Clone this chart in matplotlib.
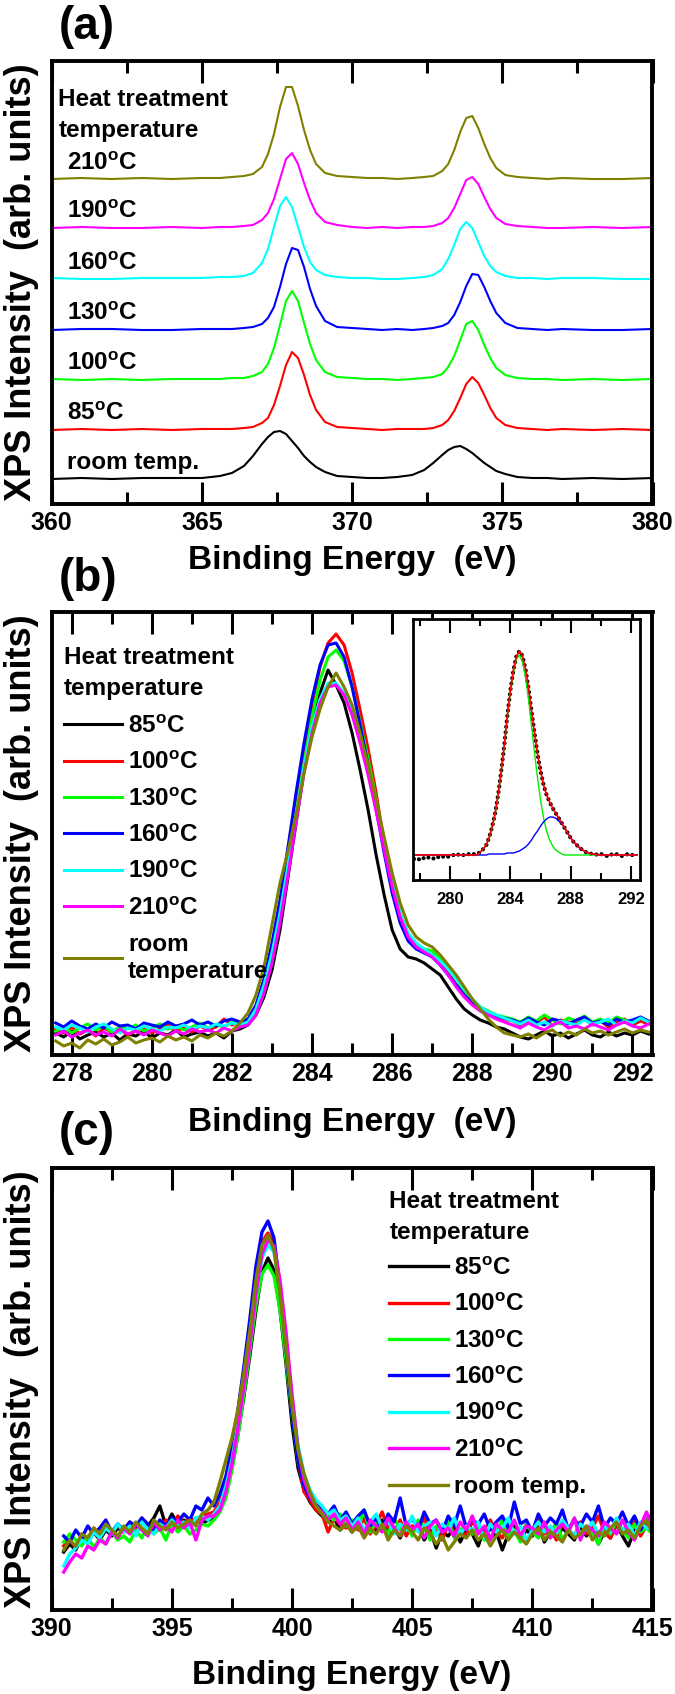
import numpy as np
import matplotlib
matplotlib.use("Agg")
import matplotlib.pyplot as plt
from matplotlib.ticker import MultipleLocator

plt.rcParams['font.family'] = ['Liberation Sans', 'DejaVu Sans']
plt.rcParams['font.weight'] = 'bold'
plt.rcParams['axes.labelweight'] = 'bold'
plt.rcParams['mathtext.fontset'] = 'custom'
plt.rcParams['mathtext.rm'] = 'Liberation Sans:bold'
plt.rcParams['mathtext.it'] = 'Liberation Sans:bold'
plt.rcParams['mathtext.bf'] = 'Liberation Sans:bold'

W, H = 675, 1694
deg = r'$^{\rm o}$C'

# ---------------- (a) Sn 3d, stacked ----------------
be_a = [360.0, 361.0, 362.0, 363.0, 364.0, 365.0, 365.6,
        366.0, 366.4, 366.7, 367.0, 367.2, 367.4, 367.6, 367.8, 368.0, 368.2,
        368.4, 368.6, 368.8, 369.1, 369.5, 370.0,
        370.5, 371.0, 371.5, 372.0,
        372.4, 372.7, 373.0, 373.2, 373.4, 373.6, 373.8, 374.0, 374.2, 374.4,
        374.6, 374.8, 375.1, 375.5, 376.0,
        376.5, 377.0, 378.0, 379.0, 380.0]

a_rt = [0, 1, 0, 1, 1, 1, 3,
        6, 13, 23, 35, 42, 47, 48, 45, 38, 31, 23, 17, 12, 7, 3, 2,
        1, 1, 2, 4,
        9, 16, 24, 29, 32, 33, 30, 26, 21, 16, 12, 8, 5, 2, 1,
        1, 0, 1, 0, 1]
a_85 = [0, 1, 0, 1, 0, 1, 1,
        1, 2, 3, 7, 12, 25, 44, 65, 78, 72, 55, 35, 20, 8, 3, 2,
        1, 0, 1, 1,
        1, 2, 5, 10, 19, 32, 46, 53, 47, 35, 22, 12, 5, 2, 1,
        0, 1, 0, 1, 0]
a_100 = [1, 0, 1, 0, 1, 1, 1,
         2, 2, 4, 8, 16, 32, 55, 79, 89, 79, 57, 36, 20, 8, 3, 2,
         1, 1, 0, 1,
         2, 3, 6, 13, 24, 40, 56, 59, 50, 35, 22, 12, 5, 2, 1,
         1, 0, 1, 0, 1]
a_130 = [0, 1, 1, 0, 0, 1, 1,
         1, 2, 3, 6, 12, 23, 43, 66, 82, 80, 63, 41, 24, 9, 3, 2,
         1, 0, 1, 0,
         1, 2, 4, 7, 15, 28, 44, 56, 55, 43, 29, 17, 7, 2, 1,
         0, 1, 0, 0, 1]
a_160 = [1, 0, 0, 1, 1, 1, 2,
         2, 3, 6, 16, 30, 52, 73, 82, 72, 52, 32, 17, 9, 4, 2, 1,
         1, 0, 0, 1,
         2, 4, 10, 20, 34, 50, 57, 51, 37, 23, 13, 7, 3, 1, 1,
         0, 1, 1, 0, 0]
a_190 = [0, 1, 0, 0, 1, 0, 1,
         1, 2, 3, 8, 15, 29, 49, 69, 75, 64, 45, 28, 15, 6, 3, 1,
         0, 1, 0, 1,
         1, 2, 5, 10, 20, 34, 48, 51, 44, 31, 19, 10, 4, 2, 1,
         0, 0, 1, 0, 1]
a_210 = [0, 1, 0, 1, 0, 1, 1,
         2, 3, 5, 12, 25, 45, 72, 92, 92, 73, 49, 29, 15, 6, 3, 2,
         1, 1, 0, 1,
         2, 3, 8, 15, 29, 47, 61, 63, 51, 35, 21, 11, 4, 2, 1,
         0, 1, 0, 0, 1]

a_labels = ['room temp.', '85' + deg, '100' + deg, '130' + deg, '160' + deg, '190' + deg, '210' + deg]
a_colors = ['#000000', '#ff0000', '#00ff00', '#0000ff', '#00ffff', '#ff00ff', '#808000']
a_offsets = [25, 74, 124, 174, 225, 276, 325]
a_spectra = [a_rt, a_85, a_100, a_130, a_160, a_190, a_210]

# ---------------- (b) C 1s ----------------
be_b = np.round(np.arange(277.6, 292.41, 0.2), 1)

b_85 = [22, 18, 24, 16, 20, 23, 18, 22, 15, 21, 19, 24, 17, 22, 20, 25, 18, 21, 23, 19, 22, 17, 24, 26,
        30, 40, 58, 85, 125, 178, 232, 285, 330, 362, 385, 370, 352, 322, 285, 245, 200, 160, 125, 106,
        98, 96, 92, 86, 80, 68, 56, 46, 40, 35, 32, 28, 26,
        22, 18, 16, 20, 24, 19, 22, 17, 21, 25, 20, 18, 23, 19, 22, 20, 24, 21]
b_100 = [26, 22, 28, 21, 25, 19, 27, 23, 26, 20, 24, 28, 22, 26, 30, 24, 27, 23, 29, 25, 28, 36, 30, 33,
         35, 48, 72, 105, 148, 198, 250, 302, 350, 388, 412, 421, 410, 382, 345, 306, 262, 212, 170, 138,
         118, 108, 104, 100, 92, 82, 70, 62, 52, 45, 41, 38, 36,
         34, 30, 36, 32, 38, 29, 35, 33, 31, 37, 30, 34, 28, 33, 36, 30, 34, 31]
b_130 = [24, 28, 22, 27, 31, 25, 29, 23, 28, 26, 30, 24, 27, 31, 26, 29, 25, 28, 32, 27, 30, 28, 33, 31,
         33, 45, 66, 98, 140, 190, 242, 292, 338, 375, 398, 405, 394, 368, 333, 296, 256, 214, 176, 142,
         120, 110, 106, 104, 96, 86, 76, 64, 55, 48, 44, 40, 38,
         36, 33, 38, 34, 40, 35, 31, 37, 34, 39, 33, 36, 32, 38, 35, 33, 37, 34]
b_160 = [32, 28, 34, 29, 26, 31, 27, 33, 29, 30, 26, 32, 30, 28, 33, 29, 31, 35, 30, 33, 29, 34, 36, 33,
         36, 50, 76, 112, 155, 208, 262, 312, 356, 390, 410, 412, 398, 368, 330, 290, 246, 202, 162, 132,
         114, 106, 102, 98, 90, 80, 70, 60, 52, 46, 42, 39, 37,
         35, 32, 37, 33, 30, 36, 34, 31, 35, 38, 32, 34, 30, 36, 33, 35, 38, 34]
b_190 = [28, 25, 30, 27, 23, 28, 31, 26, 22, 27, 25, 29, 26, 24, 28, 27, 30, 26, 29, 27, 31, 29, 32, 30,
         33, 46, 70, 102, 142, 190, 240, 288, 328, 356, 372, 372, 362, 344, 318, 288, 252, 212, 174, 142,
         122, 112, 106, 100, 94, 86, 76, 66, 56, 48, 43, 40, 37,
         34, 31, 35, 30, 33, 29, 34, 32, 30, 35, 31, 33, 36, 30, 34, 32, 37, 33]
b_210 = [20, 24, 18, 22, 25, 20, 23, 19, 26, 21, 24, 20, 25, 22, 19, 24, 21, 26, 23, 25, 22, 27, 24, 28,
         30, 40, 62, 92, 132, 180, 232, 282, 322, 352, 368, 370, 360, 340, 312, 280, 244, 205, 168, 138,
         118, 108, 103, 98, 90, 80, 68, 58, 50, 44, 40, 36, 33,
         30, 27, 32, 28, 25, 30, 33, 27, 29, 26, 31, 28, 25, 30, 33, 29, 27, 31]
b_rt = [14, 9, 12, 7, 15, 11, 16, 10, 13, 18, 12, 15, 17, 13, 19, 15, 18, 14, 20, 17, 22, 19, 24, 32,
        42, 60, 88, 130, 172, 204, 240, 282, 318, 346, 368, 382, 368, 350, 322, 290, 255, 218, 182, 152,
        130, 118, 112, 108, 100, 90, 80, 68, 56, 46, 36, 28, 22,
        20, 18, 21, 17, 22, 25, 19, 23, 20, 26, 22, 24, 20, 23, 26, 22, 25, 23]

# inset: fit of the C 1s line
inset_data = [21, 22, 20, 22, 21, 23, 22, 21, 23, 22, 24, 23,
              24, 25, 24, 26, 25, 25, 26, 25, 26, 26,
              28, 31, 35, 43, 54, 68, 87, 110, 136, 165, 190, 210, 224, 229, 224, 211, 192, 169,
              147, 126, 109, 95, 85, 78, 72, 67, 62, 57,
              52, 47, 42, 38, 35, 32, 30, 28, 27, 26, 26,
              25, 26, 25, 24, 26, 25, 26, 25, 24, 25, 26, 25, 25, 26]
inset_fit = [25] * 22 + [28, 31, 35, 43, 54, 68, 87, 110, 136, 165, 190, 210, 224, 229, 224, 211, 192,
                         169, 147, 126, 109, 95, 85, 78, 72, 67, 62, 57, 52, 47, 42, 38, 35, 32, 30,
                         28, 27, 26, 26] + [25] * 14
inset_cc = [25] * 22 + [28, 31, 35, 42, 53, 67, 86, 109, 135, 163, 188, 208, 221, 225, 218, 203, 181,
                        154, 127, 102, 80, 62, 49, 40, 34, 30, 28, 26] + [25] * 25
inset_co = [25] * 25 + [26, 26, 26, 26, 26, 26, 27, 27, 27, 28, 29, 31, 33, 36, 40, 45, 49, 54, 58,
                        61, 63, 63, 62, 59, 56, 52, 47, 42, 38, 35, 32, 30, 28, 27, 26, 26] + [25] * 14

# ---------------- (c) N 1s ----------------
be_c = np.arange(390.5, 415.01, 0.25)

c_85 = [58, 66, 60, 72, 68, 78, 70, 80, 74, 82, 78, 86, 80, 90, 84, 92, 104, 84, 96, 86,
        90, 84, 92, 86, 90, 92, 100, 118, 142, 176, 214, 255, 300, 338,
        352, 340, 300, 246, 186, 142, 120, 108, 100, 94, 88, 92, 80, 86,
        78, 88, 74, 84, 80, 90, 76, 82, 72, 86, 78, 84, 70, 80, 62, 78, 74, 82, 68, 80,
        76, 64, 82, 72, 78, 60, 76, 84, 70, 80, 74, 86, 68, 78, 72, 82, 76, 70, 84, 74,
        80, 66, 78, 72, 86, 74, 64, 80, 76, 84, 78]
c_100 = [64, 70, 62, 76, 70, 82, 74, 86, 78, 84, 80, 88, 76, 92, 82, 86, 80, 90, 84, 94,
         86, 92, 88, 94, 96, 98, 108, 128, 156, 192, 234, 278, 330, 368,
         377, 366, 322, 268, 204, 150, 118, 110, 100, 96, 78, 92, 86, 82,
         88, 80, 92, 76, 86, 98, 82, 78, 90, 74, 84, 80, 92, 76, 82, 70, 86, 78, 80, 74,
         88, 82, 76, 90, 78, 72, 84, 80, 74, 86, 78, 92, 76, 82, 70, 86, 80, 74, 88, 76,
         82, 94, 78, 72, 86, 80, 76, 90, 74, 84, 82]
c_130 = [68, 76, 70, 64, 74, 62, 72, 66, 78, 70, 74, 68, 80, 72, 84, 76, 82, 70, 86, 78,
         84, 76, 80, 86, 84, 90, 98, 112, 140, 174, 216, 260, 305, 336,
         345, 334, 300, 250, 196, 150, 126, 114, 104, 100, 94, 90, 96, 84,
         90, 82, 100, 78, 88, 84, 76, 92, 80, 86, 74, 90, 82, 70, 84, 78, 88, 72, 80, 86,
         76, 84, 70, 82, 78, 90, 74, 80, 68, 86, 78, 72, 84, 76, 88, 70, 80, 92, 74, 82,
         78, 66, 84, 76, 90, 80, 72, 86, 78, 82, 76]
c_160 = [74, 68, 80, 72, 84, 76, 82, 90, 78, 86, 80, 88, 84, 92, 86, 80, 90, 84, 92, 88,
         96, 90, 104, 100, 112, 104, 116, 134, 164, 200, 244, 292, 344, 378,
         389, 372, 322, 260, 196, 150, 124, 112, 106, 100, 96, 104, 90, 98,
         86, 94, 100, 84, 92, 80, 96, 88, 112, 84, 92, 80, 98, 86, 90, 78, 94, 84, 104, 82,
         90, 86, 96, 80, 88, 94, 82, 108, 86, 90, 78, 96, 84, 92, 86, 100, 80, 90, 84, 96,
         88, 104, 82, 92, 86, 98, 84, 94, 80, 90, 96]
c_190 = [44, 56, 62, 70, 66, 78, 72, 82, 76, 86, 78, 84, 74, 88, 80, 76, 86, 82, 90, 84,
         88, 82, 92, 94, 90, 96, 104, 124, 150, 186, 228, 270, 318, 352,
         365, 358, 320, 270, 212, 165, 136, 120, 110, 104, 96, 100, 90, 94,
         84, 92, 80, 88, 96, 82, 90, 76, 86, 80, 94, 78, 84, 88, 74, 86, 80, 92, 76, 84,
         80, 88, 72, 86, 78, 82, 92, 76, 84, 70, 80, 88, 78, 84, 76, 90, 82, 74, 86, 80,
         88, 76, 84, 78, 92, 80, 86, 74, 88, 82, 80]
c_210 = [38, 48, 56, 52, 64, 60, 70, 66, 78, 72, 82, 76, 86, 80, 74, 88, 80, 84, 78, 90,
         82, 88, 70, 90, 94, 94, 100, 118, 146, 182, 224, 266, 316, 356,
         370, 364, 330, 278, 216, 162, 130, 114, 104, 98, 90, 96, 86, 92,
         80, 88, 76, 90, 84, 78, 92, 82, 74, 88, 80, 86, 72, 84, 90, 78, 82, 74, 88, 80,
         94, 76, 84, 70, 86, 80, 78, 90, 74, 84, 82, 76, 88, 72, 80, 86, 78, 92, 70, 84,
         80, 74, 88, 82, 76, 90, 78, 70, 84, 98, 80]
c_rt = [60, 70, 64, 76, 72, 82, 76, 86, 80, 74, 84, 78, 88, 82, 76, 90, 84, 80, 88, 82,
        86, 90, 84, 96, 100, 108, 128, 150, 172, 200, 238, 280, 330, 365,
        375, 360, 316, 262, 204, 160, 136, 118, 104, 96, 88, 84, 80, 86,
        78, 84, 72, 82, 76, 86, 70, 80, 74, 84, 78, 70, 82, 76, 66, 74, 60, 68, 76, 72,
        80, 70, 76, 64, 74, 80, 70, 78, 72, 66, 76, 82, 70, 78, 74, 68, 80, 72, 76, 84,
        70, 78, 74, 82, 88, 76, 80, 72, 84, 90, 76]

bc_colors = ['#000000', '#ff0000', '#00ff00', '#0000ff', '#00ffff', '#ff00ff', '#808000']
b_labels = ['85' + deg, '100' + deg, '130' + deg, '160' + deg, '190' + deg, '210' + deg, 'room\ntemperature']
c_labels = ['85' + deg, '100' + deg, '130' + deg, '160' + deg, '190' + deg, '210' + deg, 'room temp.']
b_spectra = [b_85, b_100, b_130, b_160, b_190, b_210, b_rt]
c_spectra = [c_85, c_100, c_130, c_160, c_190, c_210, c_rt]

fig = plt.figure(figsize=(W / 100, H / 100), dpi=100)


def px_axes(l, t, r, b):
    return fig.add_axes([l / W, 1 - b / H, (r - l) / W, (b - t) / H])


def style(ax, major, minor, xlabel, xlab_y):
    for s in ax.spines.values():
        s.set_linewidth(2.8)
    ax.tick_params(axis='x', which='both', direction='in', top=True, bottom=True,
                   width=2.2, labelsize=18, pad=5)
    ax.tick_params(axis='x', which='major', length=16)
    ax.tick_params(axis='x', which='minor', length=8.5)
    ax.tick_params(axis='y', which='both', left=False, right=False, labelleft=False)
    ax.xaxis.set_major_locator(MultipleLocator(major))
    ax.xaxis.set_minor_locator(MultipleLocator(minor))
    ax.set_xlabel(xlabel, fontsize=24, fontweight='bold', va='center')
    ax.xaxis.set_label_coords(0.5, xlab_y)
    ax.set_ylabel('XPS Intensity  (arb. units)', fontsize=26, fontweight='bold', va='center')
    ax.yaxis.set_label_coords(-0.05, 0.5)


def legend_block(ax, x, y_title, y_leg, labels_fs=17.5):
    ax.text(x, y_title, 'Heat treatment\ntemperature', transform=ax.transAxes,
            fontsize=labels_fs, fontweight='bold', va='top', ha='left', linespacing=1.45)
    ax.legend(loc='upper left', bbox_to_anchor=(x, y_leg), frameon=False,
              fontsize=labels_fs, handlelength=2.4, handletextpad=0.25,
              labelspacing=0.55, borderpad=0, borderaxespad=0)


# (a)
ax_a = px_axes(51.7, 61, 652.5, 504)
for x_off, y, c in zip(a_offsets, a_spectra, a_colors):
    ax_a.plot(be_a, np.array(y) + x_off, color=c, lw=1.5)
for x_off, lab in zip(a_offsets, a_labels):
    ax_a.text(360.5, x_off + 16, lab, fontsize=17.5, va='center', ha='left')
ax_a.text(360.22, 404, 'Heat treatment', fontsize=17.5, va='center', ha='left')
ax_a.text(360.22, 373, 'temperature', fontsize=17.5, va='center', ha='left')
ax_a.set_xlim(360, 380)
ax_a.set_ylim(0, 443)
style(ax_a, 5, 2.5, 'Binding Energy  (eV)', -0.127)

# (b)
ax_b = px_axes(51.7, 611.5, 652.5, 1055)
for y, c, lab in zip(b_spectra, bc_colors, b_labels):
    ax_b.plot(be_b, y, color=c, lw=2.2, label=lab)
ax_b.set_xlim(277.5, 292.5)
ax_b.set_ylim(0, 443.5)
style(ax_b, 2, 1, 'Binding Energy  (eV)', -0.153)
legend_block(ax_b, 0.02, 0.922, 0.767)

ax_in = px_axes(412.5, 619, 640, 880)
ax_in.plot(be_b, inset_data, color='k', lw=3, ls=(0, (0.01, 1.3)), dash_capstyle='round')
ax_in.plot(be_b, inset_cc, color='#00ee00', lw=1)
ax_in.plot(be_b, inset_co, color='#0000ff', lw=1)
ax_in.plot(be_b, inset_fit, color='#ff0000', lw=1.2)
ax_in.set_xlim(277.5, 292.6)
ax_in.set_ylim(0, 261)
for s in ax_in.spines.values():
    s.set_linewidth(2)
ax_in.tick_params(axis='x', which='both', direction='in', top=True, bottom=True,
                  width=1.5, labelsize=12, pad=9)
ax_in.tick_params(axis='x', which='major', length=10)
ax_in.tick_params(axis='x', which='minor', length=5)
ax_in.tick_params(axis='y', which='both', left=False, right=False, labelleft=False)
ax_in.xaxis.set_major_locator(MultipleLocator(4))
ax_in.xaxis.set_minor_locator(MultipleLocator(2))

# (c)
ax_c = px_axes(51.7, 1168, 652.5, 1610)
for y, c, lab in zip(c_spectra, bc_colors, c_labels):
    ax_c.plot(be_c, y, color=c, lw=2.4, label=lab)
ax_c.set_xlim(390, 415)
ax_c.set_ylim(0, 442)
style(ax_c, 5, 2.5, 'Binding Energy (eV)', -0.149)
legend_block(ax_c, 0.562, 0.950, 0.799)

for lab, y in [('(a)', 27), ('(b)', 579), ('(c)', 1133)]:
    fig.text(59 / W, 1 - y / H, lab, fontsize=33, fontweight='bold', va='center', ha='left')

fig.canvas.draw()
for ax in (ax_a, ax_b, ax_c, ax_in):
    for t in ax.get_xticklabels():
        t.set_fontweight('bold')

fig.savefig('out.png', dpi=100)
